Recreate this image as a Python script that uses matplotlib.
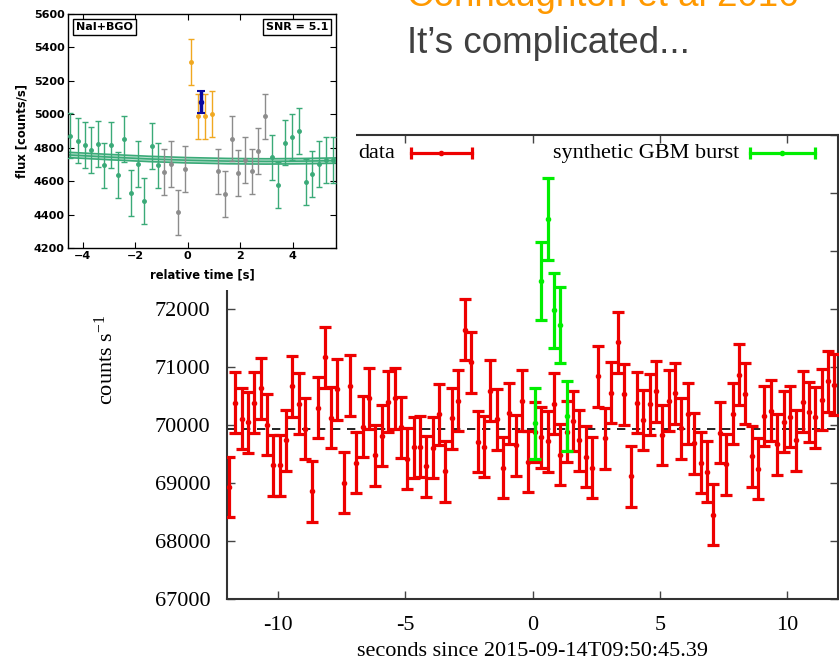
import matplotlib
matplotlib.use("Agg")
import matplotlib.pyplot as plt
from matplotlib.patches import Rectangle

# ---------------- main chart data ----------------
times = [-11.93, -11.68, -11.43, -11.18, -10.93, -10.68, -10.43, -10.18, -9.93, -9.68,
         -9.43, -9.18, -8.93, -8.67, -8.42, -8.17, -7.92, -7.67, -7.42, -7.17,
         -6.92, -6.67, -6.42, -6.17, -5.92, -5.67, -5.42, -5.17, -4.92, -4.67,
         -4.42, -4.17, -3.92, -3.67, -3.42, -3.17, -2.92, -2.66, -2.41, -2.16,
         -1.91, -1.66, -1.41, -1.16, -0.91, -0.66, -0.41, -0.16, 0.09, 0.34,
         0.59, 0.84, 1.09, 1.34, 1.59, 1.84, 2.09, 2.34, 2.59, 2.84,
         3.09, 3.35, 3.60, 3.85, 4.10, 4.35, 4.60, 4.85, 5.10, 5.35,
         5.60, 5.85, 6.10, 6.35, 6.60, 6.85, 7.10, 7.36, 7.61, 7.86,
         8.11, 8.36, 8.61, 8.86, 9.11, 9.36, 9.61, 9.86, 10.11, 10.36,
         10.61, 10.86, 11.11, 11.36, 11.61, 11.86]
counts = [68931, 70387, 70110, 70046, 70387, 70635, 70006, 69307, 69307, 69740,
          70664, 70364, 69936, 68856, 70300, 71167, 70127, 70618, 69006, 70676,
          69347, 69971, 70462, 69480, 69815, 70404, 70462, 69960, 69422, 69613,
          69624, 69289, 69607, 70185, 69203, 70116, 70416, 71646, 71080, 69711,
          69624, 70589, 70098, 69261, 70202, 69653, 70422, 69365, 69879, 69786,
          69723, 70364, 69491, 69884, 70069, 69740, 69451, 69266, 70837, 69769,
          70560, 71426, 70531, 69116, 70387, 70087, 70358, 70578, 69827, 70416,
          70549, 69942, 70191, 69682, 69347, 69191, 68452, 69867, 69324, 70191,
          70867, 70537, 69463, 69249, 70156, 70248, 69665, 70058, 70144, 69740,
          70404, 70225, 70133, 70433, 70751, 70693]
count_err = 525

burst_times = [0.09, 0.34, 0.59, 0.84, 1.09, 1.34]
burst_counts = [70028, 72483, 73553, 71976, 71716, 70156]
burst_err = [607, 676, 700, 650, 655, 607]

background_level = 69930

x_ticks = [-10, -5, 0, 5, 10]
y_ticks = [67000, 68000, 69000, 70000, 71000, 72000, 73000, 74000, 75000]
# labels of the upper ticks sit behind the inset in the reference
y_tick_labels = ["67000", "68000", "69000", "70000", "71000", "72000", "", "", ""]

# ---------------- inset data ----------------
in_green_t = [-4.49, -4.20, -3.94, -3.69, -3.43, -3.18, -2.93, -2.67, -2.42, -2.16,
              -1.91, -1.65, -1.37, -1.12, 3.21, 3.46, 3.71, 3.99, 4.25, 4.50,
              4.76, 5.01, 5.27, 5.56]
in_green_v = [4873, 4843, 4814, 4788, 4822, 4694, 4814, 4638, 4851, 4529,
              4702, 4479, 4808, 4694, 4742, 4575, 4831, 4863, 4901, 4593,
              4644, 4702, 4728, 4728]
in_gray_t = [-0.89, -0.64, -0.36, -0.10, 1.17, 1.42, 1.68, 1.93, 2.19, 2.44, 2.70, 2.95]
in_gray_v = [4656, 4704, 4413, 4674, 4658, 4523, 4855, 4648, 4728, 4658, 4778, 4987]
in_orange_t = [0.13, 0.41, 0.66, 0.92]
in_orange_v = [5313, 4987, 4987, 5003]
in_blue_t = [0.51]
in_blue_v = [5072]
in_err = 137
in_blue_err = 65

band_t = [-4.57, -3.0, -1.5, 0.0, 1.5, 3.0, 4.5, 5.66]
band_mid = [4757, 4744, 4733, 4725, 4720, 4718, 4720, 4723]
band_half = 16

in_x_ticks = [-4, -2, 0, 2, 4]
in_x_labels = ["\u22124", "\u22122", "0", "2", "4"]
in_y_ticks = [4200, 4400, 4600, 4800, 5000, 5200, 5400, 5600]

# ---------------- figure ----------------
W, H = 839, 662
fig = plt.figure(figsize=(W / 100, H / 100), dpi=100)
fig.patch.set_facecolor("white")

serif = ["Liberation Serif", "DejaVu Serif"]
plt.rcParams["mathtext.fontset"] = "custom"
plt.rcParams["mathtext.rm"] = "Liberation Serif"
plt.rcParams["mathtext.it"] = "Liberation Serif:italic"

L, R, T, B = 227, 838, 135, 599
ax = fig.add_axes([L / W, 1 - B / H, (R - L) / W, (B - T) / H])
ax.set_xlim(-12, 12)
ax.set_ylim(67000, 75000)

red = "#ee0000"
lime = "#00ee00"
ax.axhline(background_level, color="black", lw=1.2, ls=(0, (5, 4)), zorder=1)
ax.errorbar(times, counts, yerr=count_err, fmt="o", color=red, ms=3,
            elinewidth=2.3, capsize=4.5, capthick=2.3, zorder=3)
ax.errorbar(burst_times, burst_counts, yerr=burst_err, fmt="o", color=lime, ms=3,
            elinewidth=2.3, capsize=4.5, capthick=2.3, zorder=4)

ax.set_xticks(x_ticks)
ax.set_xticklabels([str(v) for v in x_ticks])
ax.set_yticks(y_ticks)
ax.set_yticklabels(y_tick_labels)
ax.tick_params(direction="in", length=6, width=1.0, top=True, right=True,
               labelsize=16, color="#444444", pad=12)
for lab in ax.get_xticklabels() + ax.get_yticklabels():
    lab.set_family(serif)
for s in ax.spines.values():
    s.set_linewidth(1.5)
    s.set_color("#333333")

ax.set_xlabel("seconds since 2015-09-14T09:50:45.39", fontsize=16, family=serif)
ax.xaxis.set_label_coords(0.5, -0.093)
ax.set_ylabel("counts s$^{-1}$", fontsize=16, family=serif)
ax.yaxis.set_label_coords(-0.178, 0.515)

# gnuplot style key
ky = 0.961
ax.text(0.2144, ky, "data", transform=ax.transAxes, fontsize=16, family=serif,
        va="center", ha="left")
ax.plot([0.301, 0.401], [ky, ky], transform=ax.transAxes, color=red, lw=2.3,
        marker="|", markevery=[0, 1], ms=8, mew=2.3, clip_on=False)
ax.plot([0.351], [ky], transform=ax.transAxes, color=red, marker="o", ms=3)
ax.text(0.5336, ky, "synthetic GBM burst", transform=ax.transAxes, fontsize=16,
        family=serif, va="center", ha="left")
ax.plot([0.856, 0.962], [ky, ky], transform=ax.transAxes, color=lime, lw=2.3,
        marker="|", markevery=[0, 1], ms=8, mew=2.3, clip_on=False)
ax.plot([0.909], [ky], transform=ax.transAxes, color=lime, marker="o", ms=3)

# slide texts (title partially cut at the top edge as in the reference)
fig.text(407 / W, 1 - 6 / H, "Connaughton et al 2016", color="#ff9900",
         fontsize=26.5, family=["Liberation Sans", "DejaVu Sans"], va="baseline", ha="left")
fig.text(407 / W, 1 - 53 / H, "It\u2019s complicated...", color="#404040",
         fontsize=26.5, family=["Liberation Sans", "DejaVu Sans"], va="baseline", ha="left")

# white backing for inset
rect = Rectangle((0, 1 - 290 / H), 356 / W, 290 / H, transform=fig.transFigure,
                 facecolor="white", edgecolor="none", zorder=5)
fig.add_artist(rect)

# ---------------- inset ----------------
iL, iR, iT, iB = 68, 336, 14, 248
ia = fig.add_axes([iL / W, 1 - iB / H, (iR - iL) / W, (iB - iT) / H])
ia.set_zorder(10)
ia.set_xlim(-4.57, 5.66)
ia.set_ylim(4200, 5600)

gcol = "#3aaa78"
lo = [m - band_half for m in band_mid]
hi = [m + band_half for m in band_mid]
ia.fill_between(band_t, lo, hi, color=gcol, alpha=0.35, lw=0, zorder=1)
ia.plot(band_t, lo, color=gcol, lw=1.2, zorder=2)
ia.plot(band_t, band_mid, color=gcol, lw=1.2, zorder=2)
ia.plot(band_t, hi, color=gcol, lw=1.2, zorder=2)

kw = dict(fmt="o", ms=2.5, elinewidth=1.0, capsize=2.5, capthick=1.0)
ia.errorbar(in_green_t, in_green_v, yerr=in_err, color=gcol, zorder=3, **kw)
ia.errorbar(in_gray_t, in_gray_v, yerr=in_err, color="#8c8c8c", zorder=3, **kw)
ia.errorbar(in_orange_t, in_orange_v, yerr=in_err, color="#f0a820", zorder=3, **kw)
ia.errorbar(in_blue_t, in_blue_v, yerr=in_blue_err, fmt="o", ms=3, elinewidth=2.5,
            capsize=3, capthick=1.5, color="#0a0aa0", zorder=4)

ia.set_xticks(in_x_ticks)
ia.set_xticklabels(in_x_labels)
ia.set_yticks(in_y_ticks)
ia.set_yticklabels([str(v) for v in in_y_ticks])
ia.tick_params(direction="in", length=4, width=0.8, top=True, right=True,
               labelsize=8, pad=2.5)
for lab in ia.get_xticklabels() + ia.get_yticklabels():
    lab.set_fontweight("bold")
for s in ia.spines.values():
    s.set_linewidth(1.0)
ia.set_xlabel("relative time [s]", fontsize=8.3, fontweight="bold", labelpad=5)
ia.set_ylabel("flux [counts/s]", fontsize=8.3, fontweight="bold", labelpad=4)

box = dict(boxstyle="square,pad=0.25", facecolor="white", edgecolor="black", lw=1)
ia.text(0.03, 0.945, "NaI+BGO", transform=ia.transAxes, fontsize=8,
        fontweight="bold", va="center", ha="left", bbox=box, zorder=6)
ia.text(0.97, 0.945, "SNR = 5.1", transform=ia.transAxes, fontsize=8,
        fontweight="bold", va="center", ha="right", bbox=box, zorder=6)

fig.savefig("out.png", dpi=100, facecolor="white")
